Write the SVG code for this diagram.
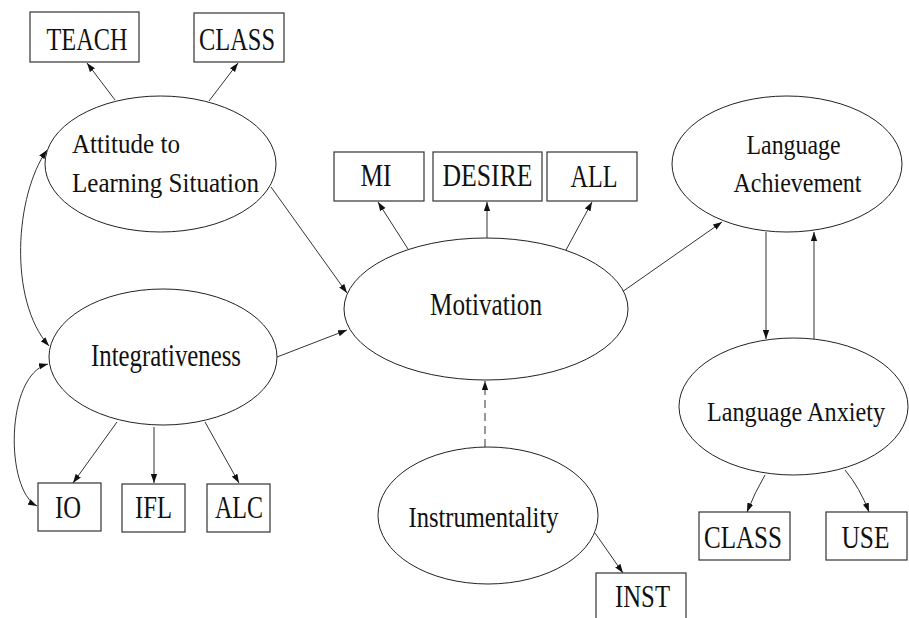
<svg xmlns="http://www.w3.org/2000/svg" width="909" height="618" viewBox="0 0 909 618">
<style>
  .box { fill: #fff; stroke: #333; stroke-width: 1.2; }
  .ell { fill: #fff; stroke: #222; stroke-width: 1; }
  .lbl { font-family: 'Liberation Serif', 'Times New Roman', serif; fill: #111; text-anchor: middle; }
  .start { text-anchor: start; }
  .edge { fill: none; stroke: #333; stroke-width: 1; marker-end: url(#ah); }
  .dash { stroke-dasharray: 8 5; }
  .both { marker-start: url(#ah); }
</style>
<defs>
  <marker id="ah" viewBox="0 0 10 7" refX="10" refY="3.5" markerWidth="9" markerHeight="7" markerUnits="userSpaceOnUse" orient="auto-start-reverse">
    <path d="M0,0 L10,3.5 L0,7 z" fill="#111"/>
  </marker>
</defs>
<rect width="909" height="618" fill="#fff"/>

<g id="connectors">
  <line class="edge" x1="115" y1="100" x2="87" y2="63"/>
  <line class="edge" x1="209" y1="101" x2="238" y2="63"/>
  <line class="edge" x1="271" y1="187" x2="347" y2="293"/>
  <line class="edge" x1="277" y1="357" x2="347" y2="330"/>
  <line class="edge" x1="408" y1="249" x2="378" y2="202"/>
  <line class="edge" x1="487" y1="238" x2="487" y2="202"/>
  <line class="edge" x1="566" y1="250" x2="592" y2="202"/>
  <line class="edge" x1="622" y1="292" x2="722" y2="222"/>
  <line class="edge" x1="766" y1="232" x2="766" y2="339"/>
  <line class="edge" x1="814" y1="339" x2="814" y2="232"/>
  <line class="edge dash" x1="485" y1="447" x2="485" y2="381"/>
  <line class="edge" x1="595" y1="533" x2="623" y2="573"/>
  <path class="edge" d="M765,475 Q755,492 747,512"/>
  <path class="edge" d="M845,470 Q860,488 869,512"/>
  <line class="edge" x1="117" y1="422" x2="73" y2="483"/>
  <line class="edge" x1="154" y1="427" x2="154" y2="483"/>
  <line class="edge" x1="205" y1="422" x2="239" y2="483"/>
  <path class="edge both" d="M47,150 C15,195 8,300 49,346"/>
  <path class="edge both" d="M48,364 C5,375 5,490 37,506"/>
</g>

<g id="node-teach">
  <rect class="box" x="30" y="12" width="109" height="50"/>
  <text class="lbl" x="87" y="50" font-size="32" textLength="81" lengthAdjust="spacingAndGlyphs">TEACH</text>
</g>
<g id="node-class-top">
  <rect class="box" x="194" y="13" width="90" height="49"/>
  <text class="lbl" x="237" y="50" font-size="32" textLength="76" lengthAdjust="spacingAndGlyphs">CLASS</text>
</g>
<g id="node-attitude">
  <ellipse class="ell" cx="160.5" cy="164" rx="115.5" ry="68"/>
  <text class="lbl start" x="72" y="153" font-size="27" textLength="108" lengthAdjust="spacingAndGlyphs">Attitude to</text>
  <text class="lbl start" x="72" y="192" font-size="27" textLength="187" lengthAdjust="spacingAndGlyphs">Learning Situation</text>
</g>
<g id="node-integrativeness">
  <ellipse class="ell" cx="163" cy="357" rx="114" ry="68"/>
  <text class="lbl" x="166" y="366" font-size="32" textLength="150" lengthAdjust="spacingAndGlyphs">Integrativeness</text>
</g>
<g id="node-io">
  <rect class="box" x="38" y="483" width="63" height="48"/>
  <text class="lbl" x="68" y="518" font-size="32" textLength="26" lengthAdjust="spacingAndGlyphs">IO</text>
</g>
<g id="node-ifl">
  <rect class="box" x="122" y="484" width="63" height="48"/>
  <text class="lbl" x="153.5" y="518" font-size="32" textLength="37" lengthAdjust="spacingAndGlyphs">IFL</text>
</g>
<g id="node-alc">
  <rect class="box" x="207" y="484" width="63" height="48"/>
  <text class="lbl" x="239" y="518" font-size="32" textLength="48" lengthAdjust="spacingAndGlyphs">ALC</text>
</g>
<g id="node-mi">
  <rect class="box" x="334" y="152" width="90" height="49"/>
  <text class="lbl" x="376" y="186" font-size="32" textLength="31" lengthAdjust="spacingAndGlyphs">MI</text>
</g>
<g id="node-desire">
  <rect class="box" x="433" y="152" width="109" height="49"/>
  <text class="lbl" x="487.5" y="186" font-size="32" textLength="90" lengthAdjust="spacingAndGlyphs">DESIRE</text>
</g>
<g id="node-all">
  <rect class="box" x="547" y="152" width="90" height="49"/>
  <text class="lbl" x="594" y="186.5" font-size="32" textLength="47" lengthAdjust="spacingAndGlyphs">ALL</text>
</g>
<g id="node-motivation">
  <ellipse class="ell" cx="486" cy="309" rx="142" ry="71"/>
  <text class="lbl" x="486" y="315" font-size="32" textLength="112" lengthAdjust="spacingAndGlyphs">Motivation</text>
</g>
<g id="node-instrumentality">
  <ellipse class="ell" cx="488" cy="515.5" rx="110" ry="68.5"/>
  <text class="lbl" x="483.5" y="527" font-size="30" textLength="150" lengthAdjust="spacingAndGlyphs">Instrumentality</text>
</g>
<g id="node-inst">
  <rect class="box" x="596" y="573" width="90" height="52"/>
  <text class="lbl" x="642.5" y="607" font-size="32" textLength="55" lengthAdjust="spacingAndGlyphs">INST</text>
</g>
<g id="node-achievement">
  <ellipse class="ell" cx="787" cy="164" rx="115" ry="68"/>
  <text class="lbl" x="793.5" y="154" font-size="27" textLength="94" lengthAdjust="spacingAndGlyphs">Language</text>
  <text class="lbl" x="797.5" y="192" font-size="27" textLength="128" lengthAdjust="spacingAndGlyphs">Achievement</text>
</g>
<g id="node-anxiety">
  <ellipse class="ell" cx="793.5" cy="406.5" rx="114.5" ry="68.5"/>
  <text class="lbl" x="796" y="420.5" font-size="28" textLength="178" lengthAdjust="spacingAndGlyphs">Language Anxiety</text>
</g>
<g id="node-class-bottom">
  <rect class="box" x="699" y="512" width="91" height="48"/>
  <text class="lbl" x="743" y="548" font-size="32" textLength="78" lengthAdjust="spacingAndGlyphs">CLASS</text>
</g>
<g id="node-use">
  <rect class="box" x="826" y="512" width="81" height="48"/>
  <text class="lbl" x="865.5" y="547.5" font-size="32" textLength="48" lengthAdjust="spacingAndGlyphs">USE</text>
</g>
</svg>
